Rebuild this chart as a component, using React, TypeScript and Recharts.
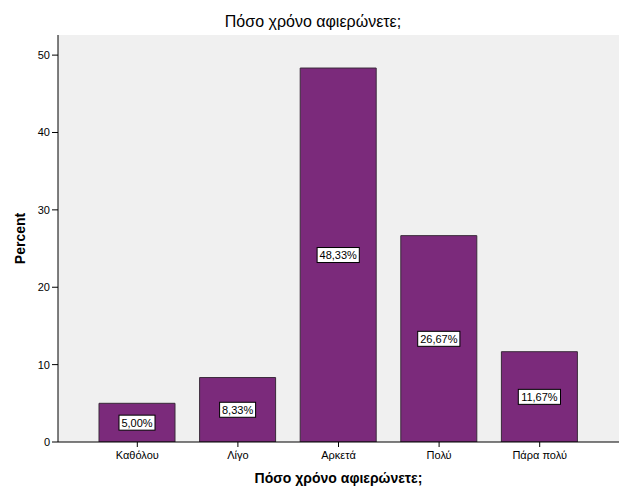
import { BarChart, Bar, XAxis, YAxis, CartesianGrid, LabelList, Label } from "recharts";

const categories = ["Καθόλου", "Λίγο", "Αρκετά", "Πολύ", "Πάρα πολύ"];
const percents = [5.0, 8.33, 48.33, 26.67, 11.67];
const yTicks = [0, 10, 20, 30, 40, 50];

const data = categories.map((name, i) => ({ name, value: percents[i] }));

const FONT = "Arial, 'Liberation Sans', sans-serif";

const BoxLabel = (props: any) => {
    const { x, y, width, height, value } = props;
    const cx = x + width / 2;
    const cy = y + height / 2;
    const text = value.toFixed(2).replace(".", ",") + "%";
    const w = text.length * 6.2 + 5;
    return (
        <g>
            <rect x={cx - w / 2} y={cy - 7.5} width={w} height={15} fill="#ffffff" stroke="#000000" strokeWidth={1} />
            <text x={cx} y={cy + 4} textAnchor="middle" fontSize={11} fontFamily={FONT} fill="#000000">
                {text}
            </text>
        </g>
    );
};

export default function App() {
    return (
        <div style={{ position: "absolute", left: 0, top: 0, width: 626, height: 501, background: "#ffffff", fontFamily: FONT }}>
            <div style={{ position: "absolute", top: 13, left: 0, width: 626, textAlign: "center", fontSize: 16, color: "#000" }}>
                Πόσο χρόνο αφιερώνετε;
            </div>
            <BarChart
                width={626}
                height={501}
                data={data}
                margin={{ top: 35, right: 7, left: 18, bottom: 29 }}
                barSize={76}
            >
                <CartesianGrid fill="#f0f0f0" horizontal={false} vertical={false} />
                <XAxis
                    dataKey="name"
                    interval={0}
                    height={30}
                    padding={{ left: 29, right: 29 }}
                    tickSize={5}
                    tickMargin={4}
                    stroke="#000"
                    tick={{ fill: "#000", fontSize: 11, fontFamily: FONT }}
                >
                    <Label value="Πόσο χρόνο αφιερώνετε;" position="bottom" offset={1} fill="#000" fontSize={14} fontWeight="bold" fontFamily={FONT} />
                </XAxis>
                <XAxis xAxisId="top" orientation="top" dataKey="name" height={0} tick={false} tickLine={false} stroke="#777" />
                <YAxis
                    domain={[0, 52.6]}
                    ticks={yTicks}
                    width={40}
                    tickSize={6}
                    tickMargin={2}
                    stroke="#000"
                    allowDataOverflow
                    tick={{ fill: "#000", fontSize: 11, fontFamily: FONT }}
                >
                    <Label value="Percent" angle={-90} position="insideLeft" offset={2} fill="#000" fontSize={14} fontWeight="bold" fontFamily={FONT} style={{ textAnchor: "middle" }} />
                </YAxis>
                <YAxis yAxisId="right" orientation="right" width={0} tick={false} tickLine={false} stroke="#444" />
                <Bar dataKey="value" fill="#7b2a7b" stroke="#3a2a3a" strokeWidth={1} isAnimationActive={false}>
                    <LabelList dataKey="value" content={BoxLabel} />
                </Bar>
            </BarChart>
        </div>
    );
}
